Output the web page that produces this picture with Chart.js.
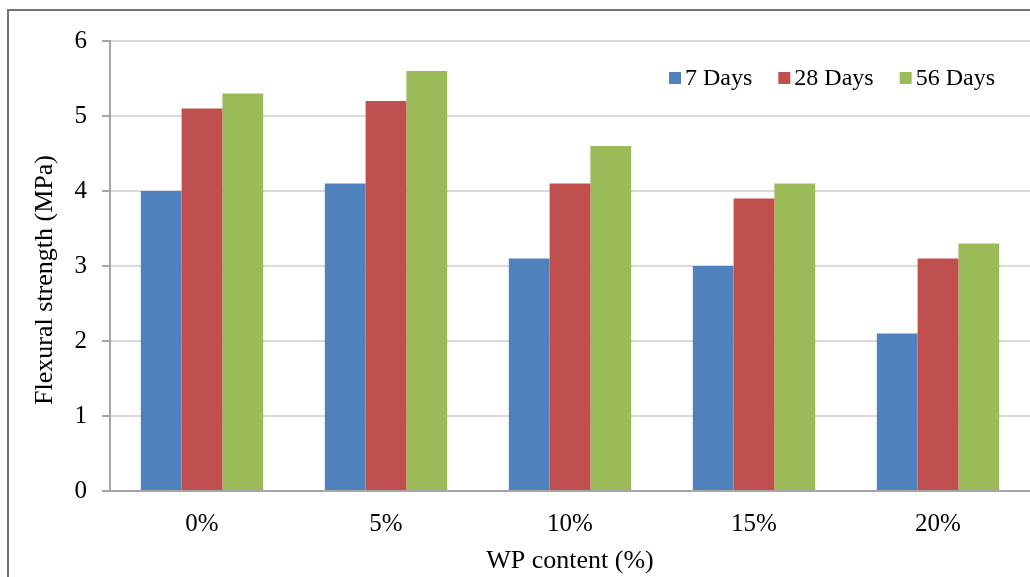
<!DOCTYPE html>
<html>
<head>
<meta charset="utf-8">
<script src="https://cdn.jsdelivr.net/npm/chart.js@4/dist/chart.umd.min.js"></script>
<style>
  html, body { margin: 0; padding: 0; background: #fff; }
  #wrap { position: relative; width: 1030px; height: 577px; overflow: hidden; }
  #frame { position: absolute; left: 7px; top: 9px; width: 1040px; height: 600px;
           border-left: 2px solid #727272; border-top: 2px solid #727272; pointer-events: none; }
  canvas { position: absolute; left: 0; top: 0; }
</style>
</head>
<body>
<div id="wrap">
  <canvas id="c" width="1030" height="577"></canvas>
  <div id="frame"></div>
</div>
<script>
// WP content levels and flexural strength (MPa) at each curing age
const categories = ['0%', '5%', '10%', '15%', '20%'];
const days7  = [4.0, 4.1, 3.1, 3.0, 2.1];
const days28 = [5.1, 5.2, 4.1, 3.9, 3.1];
const days56 = [5.3, 5.6, 4.6, 4.1, 3.3];
const seriesNames = ['7 Days', '28 Days', '56 Days'];
const yTicks = [0, 1, 2, 3, 4, 5, 6];
const xTitle = 'WP content (%)';
const yTitle = 'Flexural strength (MPa)';

const colors = ['#4f81bd', '#c0504d', '#9bbb59'];
const serif = '"Liberation Serif", "Times New Roman", serif';

// legend drawn inside the plot area, top-right
const insideLegend = {
  id: 'insideLegend',
  afterDraw(chart) {
    const ctx = chart.ctx;
    ctx.save();
    ctx.font = '24px ' + serif;
    ctx.textBaseline = 'middle';
    let x = 669;
    const cy = 78;
    chart.data.datasets.forEach((ds) => {
      ctx.fillStyle = ds.backgroundColor;
      ctx.fillRect(x, cy - 6, 12, 12);
      ctx.fillStyle = '#000';
      ctx.fillText(ds.label, x + 16, cy + 1);
      x += 16 + ctx.measureText(ds.label).width + 26;
    });
    ctx.restore();
  }
};

// rotated value-axis title, centred beside the axis
const yAxisTitle = {
  id: 'yAxisTitle',
  afterDraw(chart) {
    const ctx = chart.ctx;
    ctx.save();
    ctx.font = '26px ' + serif;
    ctx.fillStyle = '#000';
    ctx.textAlign = 'center';
    ctx.textBaseline = 'middle';
    ctx.translate(45, 280);
    ctx.rotate(-Math.PI / 2);
    ctx.fillText(yTitle, 0, 0);
    ctx.restore();
  }
};

new Chart(document.getElementById('c'), {
  type: 'bar',
  data: {
    labels: categories,
    datasets: [
      { label: seriesNames[0], data: days7,  backgroundColor: colors[0] },
      { label: seriesNames[1], data: days28, backgroundColor: colors[1] },
      { label: seriesNames[2], data: days56, backgroundColor: colors[2] }
    ]
  },
  options: {
    responsive: false,
    animation: false,
    devicePixelRatio: 1,
    layout: { padding: { top: 41, right: 0, left: 0, bottom: 0 } },
    datasets: { bar: { categoryPercentage: 0.665, barPercentage: 1.0 } },
    plugins: {
      legend: { display: false },
      tooltip: { enabled: false }
    },
    scales: {
      x: {
        grid: { display: false, drawTicks: false },
        border: { display: true, color: '#a6a6a6', width: 2 },
        ticks: { color: '#000', font: { family: serif, size: 25 }, padding: 18 },
        title: { display: true, text: xTitle, color: '#000',
                 font: { family: serif, size: 26 }, padding: { top: 4, bottom: 0 } },
        afterFit(scale) { scale.height = 86; }
      },
      y: {
        min: 0, max: 6,
        afterBuildTicks(scale) { scale.ticks = yTicks.map(v => ({ value: v })); },
        grid: { color: '#d9d9d9', lineWidth: 2, tickLength: 8, tickColor: '#a6a6a6' },
        border: { display: true, color: '#a6a6a6', width: 2 },
        ticks: { color: '#000', font: { family: serif, size: 25 }, padding: 15 },
        afterFit(scale) { scale.width = 110; }
      }
    }
  },
  plugins: [insideLegend, yAxisTitle]
});
</script>
</body>
</html>
